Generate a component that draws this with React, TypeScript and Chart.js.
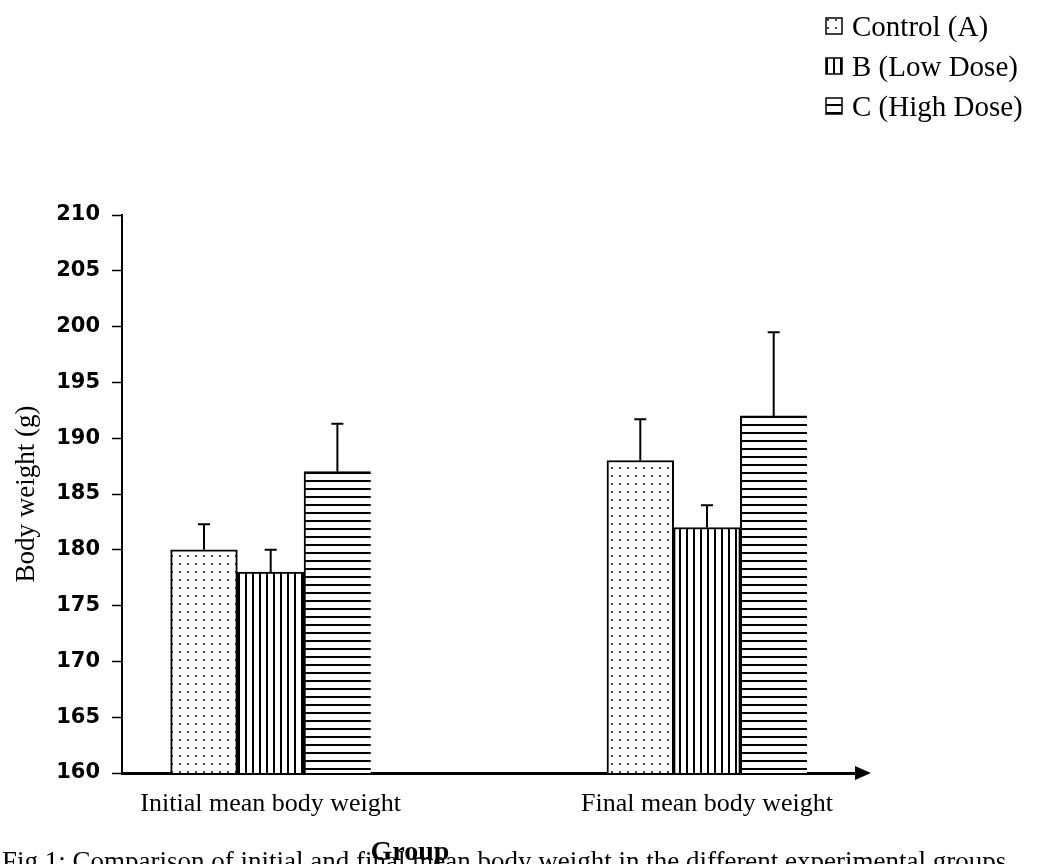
import { useEffect, useRef } from 'react';
import { Chart, registerables } from 'chart.js';

Chart.register(...registerables);

// ---- data ----
const categories = ['Initial mean body weight', 'Final mean body weight'];
const seriesLabels = ['Control (A)', 'B (Low Dose)', 'C (High Dose)'];
const controlMeans = [180, 188];
const controlErrors = [2.3, 3.7];
const lowDoseMeans = [178, 182];
const lowDoseErrors = [2.0, 2.0];
const highDoseMeans = [187, 192];
const highDoseErrors = [4.3, 7.5];
const yMin = 160;
const yMax = 210;
const yStep = 5;
const xAxisTitle = 'Group';
const yAxisTitle = 'Body weight (g)';
const captionText =
  'Fig 1: Comparison of initial and final mean body weight in the different experimental groups';

const SERIF = '"Liberation Serif", "Times New Roman", serif';

function makePattern(kind: 'dots' | 'vlines' | 'hlines'): CanvasPattern | string {
  const c = document.createElement('canvas');
  const ctx = c.getContext('2d');
  if (!ctx) return '#fff';
  if (kind === 'dots') {
    c.width = 8;
    c.height = 8;
    ctx.fillStyle = '#fff';
    ctx.fillRect(0, 0, 8, 8);
    ctx.fillStyle = '#444';
    ctx.fillRect(3, 3, 2, 2);
  } else if (kind === 'vlines') {
    c.width = 7;
    c.height = 7;
    ctx.fillStyle = '#fff';
    ctx.fillRect(0, 0, 7, 7);
    ctx.fillStyle = '#000';
    ctx.fillRect(0, 0, 2, 7);
  } else {
    c.width = 8;
    c.height = 8;
    ctx.fillStyle = '#fff';
    ctx.fillRect(0, 0, 8, 8);
    ctx.fillStyle = '#000';
    ctx.fillRect(0, 0, 8, 2);
  }
  return ctx.createPattern(c, 'repeat') || '#fff';
}

export default function App() {
  const canvasRef = useRef<HTMLCanvasElement | null>(null);

  useEffect(() => {
    const canvas = canvasRef.current;
    if (!canvas) return;

    const means = [controlMeans, lowDoseMeans, highDoseMeans];
    const errors = [controlErrors, lowDoseErrors, highDoseErrors];
    const fills = [makePattern('dots'), makePattern('vlines'), makePattern('hlines')];
    const borders = [
      { top: 2, left: 2, right: 2, bottom: 0 },
      { top: 2, left: 2, right: 2, bottom: 0 },
      { top: 2, left: 2, right: 0, bottom: 0 },
    ];

    const datasets = seriesLabels.map((label, s) => ({
      label,
      data: categories.map((_, i) => ({ x: i, y: means[s][i] })),
      backgroundColor: fills[s] as any,
      borderColor: '#000',
      borderWidth: borders[s] as any,
      borderSkipped: false as any,
      barThickness: 66.7,
    }));

    const decor = {
      id: 'decor',
      afterDatasetsDraw(chart: any) {
        const ctx = chart.ctx as CanvasRenderingContext2D;
        const yScale = chart.scales.y;
        ctx.save();
        ctx.strokeStyle = '#000';
        ctx.lineWidth = 2;
        chart.data.datasets.forEach((_: any, s: number) => {
          const meta = chart.getDatasetMeta(s);
          meta.data.forEach((el: any, i: number) => {
            const top = yScale.getPixelForValue(means[s][i] + errors[s][i]);
            ctx.beginPath();
            ctx.moveTo(el.x, el.y);
            ctx.lineTo(el.x, top);
            ctx.moveTo(el.x - 6, top);
            ctx.lineTo(el.x + 6, top);
            ctx.stroke();
          });
        });
        ctx.restore();
      },
      afterDraw(chart: any) {
        const ctx = chart.ctx as CanvasRenderingContext2D;
        const area = chart.chartArea;
        ctx.save();
        // arrow head on x axis
        ctx.fillStyle = '#000';
        ctx.beginPath();
        ctx.moveTo(area.right - 2, area.bottom - 7);
        ctx.lineTo(area.right + 14, area.bottom);
        ctx.lineTo(area.right - 2, area.bottom + 7);
        ctx.closePath();
        ctx.fill();

        // legend
        ctx.textBaseline = 'alphabetic';
        ctx.textAlign = 'left';
        ctx.font = `29px ${SERIF}`;
        chart.data.datasets.forEach((ds: any, s: number) => {
          const baseY = 36 + s * 40;
          const bx = 826;
          const by = baseY - 18;
          ctx.fillStyle = ds.backgroundColor;
          ctx.fillRect(bx, by, 16, 16);
          ctx.strokeStyle = '#000';
          ctx.lineWidth = 1.5;
          ctx.strokeRect(bx, by, 16, 16);
          ctx.fillStyle = '#000';
          ctx.fillText(ds.label, 852, baseY);
        });

        // caption
        ctx.font = `27px ${SERIF}`;
        ctx.fillStyle = '#000';
        ctx.fillText(captionText, 2, 870);

        // x axis title
        ctx.font = `bold 28px ${SERIF}`;
        ctx.textAlign = 'center';
        ctx.fillText(xAxisTitle, 410, 860);
        ctx.restore();
      },
    };

    const chart = new Chart(canvas, {
      type: 'bar',
      data: { datasets } as any,
      options: {
        animation: false,
        responsive: false,
        maintainAspectRatio: false,
        layout: { padding: { left: 0, top: 215, right: 183, bottom: 0 } },
        plugins: {
          legend: { display: false },
          tooltip: { enabled: false },
          title: { display: false },
        },
        scales: {
          x: {
            type: 'linear',
            offset: false,
            min: -0.3408,
            max: 1.3438,
            z: 1,
            grid: { display: false, drawTicks: false, offset: false },
            border: { display: true, color: '#000', width: 3 },
            afterBuildTicks: (scale: any) => {
              scale.ticks = categories.map((_, i) => ({ value: i }));
            },
            afterFit: (scale: any) => {
              scale.height = 91;
            },
            ticks: {
              padding: 16,
              color: '#000',
              maxRotation: 0,
              autoSkip: false,
              font: { family: SERIF, size: 26 },
              callback: (v: any) => categories[Math.round(Number(v))] ?? '',
            },
          },
          y: {
            type: 'linear',
            min: yMin,
            max: yMax,
            grid: {
              display: true,
              drawOnChartArea: false,
              drawTicks: true,
              tickLength: 10,
              tickColor: '#000',
              tickWidth: 1.5,
            },
            border: { display: true, color: '#000', width: 2 },
            afterFit: (scale: any) => {
              scale.width = 122;
            },
            ticks: {
              stepSize: yStep,
              padding: 12,
              color: '#000',
              font: { family: '"DejaVu Sans", sans-serif', size: 21, weight: 'bold' },
            },
            title: {
              display: true,
              text: yAxisTitle,
              color: '#000',
              padding: { top: 11, bottom: 0 },
              font: { family: SERIF, size: 27 },
            },
          },
        },
      } as any,
      plugins: [decor],
    });

    return () => chart.destroy();
  }, []);

  return (
    <div style={{ position: 'absolute', left: 0, top: 0, width: 1040, height: 864, background: '#fff' }}>
      <canvas ref={canvasRef} width={1040} height={864} style={{ display: 'block' }} />
    </div>
  );
}
